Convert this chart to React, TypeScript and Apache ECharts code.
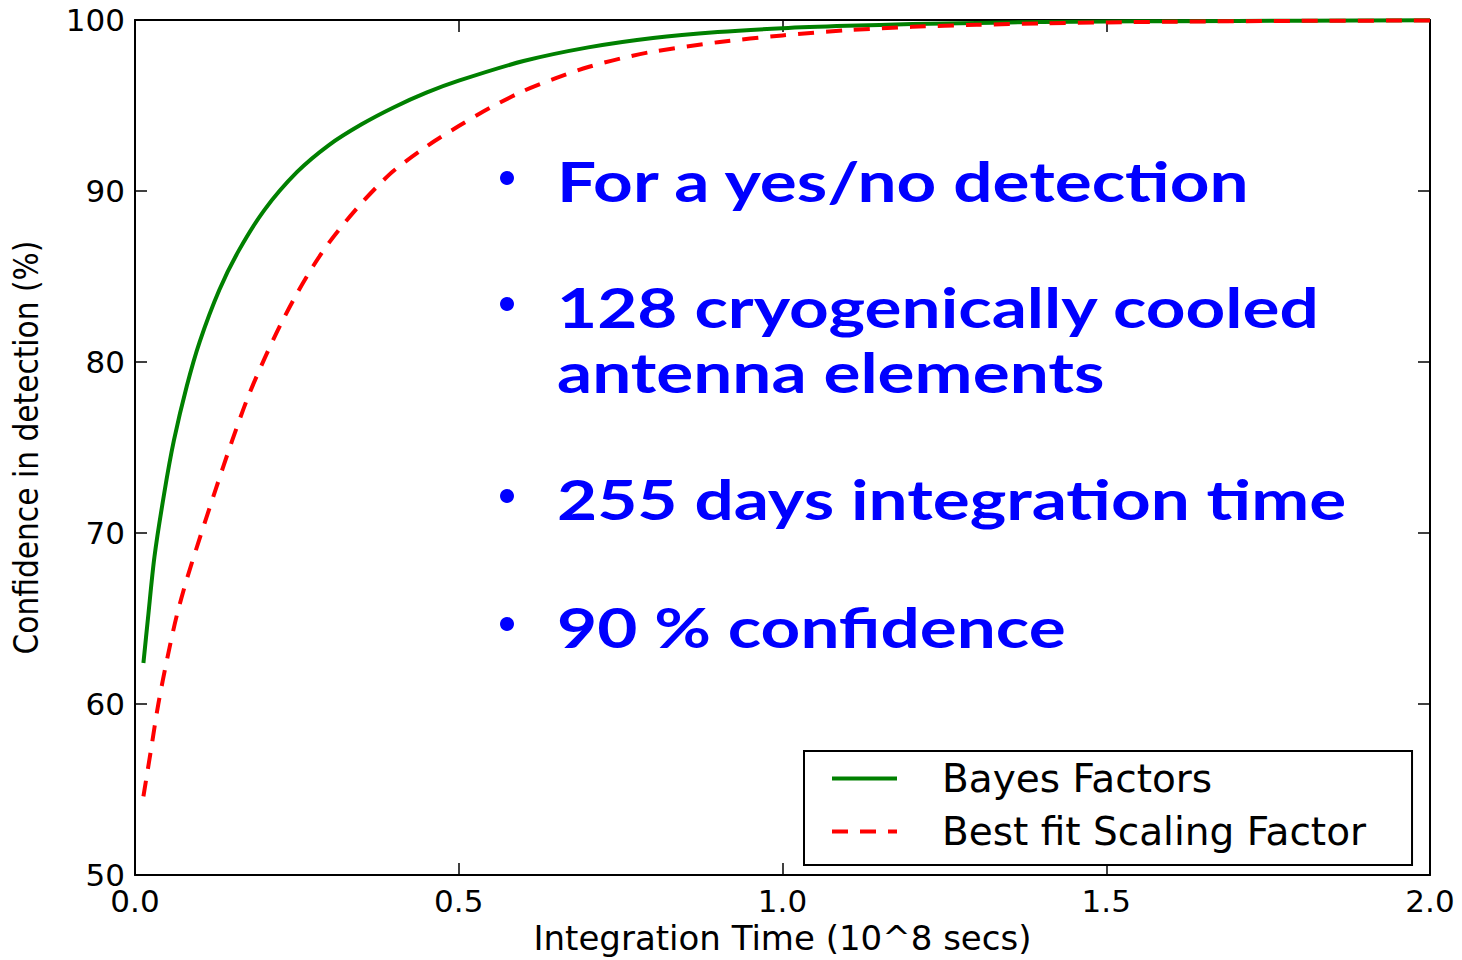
import React, { useEffect, useRef } from "react";
import * as echarts from "echarts";

// Integration time (10^8 s) and detection confidence (%) for each method
const bayesTime = [
  0.013, 0.02, 0.03, 0.045, 0.06, 0.08, 0.1, 0.13, 0.16, 0.2, 0.25, 0.3, 0.35,
  0.4, 0.45, 0.5, 0.6, 0.7, 0.8, 0.9, 1.0, 1.1, 1.2, 1.3, 1.4, 1.5, 1.6, 1.8, 2.0,
];
const bayesConfidence = [
  62.4, 65.0, 68.6, 72.3, 75.4, 78.6, 81.2, 84.2, 86.5, 88.9, 91.1, 92.7, 93.9,
  94.9, 95.75, 96.45, 97.6, 98.4, 98.95, 99.3, 99.52, 99.66, 99.76, 99.83, 99.88,
  99.91, 99.93, 99.96, 99.98,
];

const scalingTime = [
  0.013, 0.025, 0.036, 0.05, 0.064, 0.08, 0.1, 0.125, 0.15, 0.175, 0.2, 0.225,
  0.25, 0.275, 0.3, 0.325, 0.35, 0.375, 0.4, 0.45, 0.5, 0.55, 0.6, 0.65, 0.7,
  0.75, 0.8, 0.9, 1.0, 1.1, 1.2, 1.3, 1.4, 1.5, 1.6, 1.8, 2.0,
];
const scalingConfidence = [
  54.6, 57.4, 60.0, 62.7, 65.1, 67.3, 69.7, 72.6, 75.4, 78.0, 80.2, 82.2, 84.0,
  85.6, 87.0, 88.2, 89.3, 90.3, 91.2, 92.6, 93.8, 94.9, 95.85, 96.6, 97.25,
  97.75, 98.15, 98.7, 99.1, 99.4, 99.6, 99.72, 99.8, 99.86, 99.9, 99.95, 99.97,
];

const seriesNames = ["Bayes Factors", "Best fit Scaling Factor"];

const notes = [
  { bullet: true, text: "For a yes/no detection", y: 180 },
  { bullet: true, text: "128 cryogenically cooled", y: 306 },
  { bullet: false, text: "antenna elements", y: 371 },
  { bullet: true, text: "255 days integration time", y: 498 },
  { bullet: true, text: "90 % confidence", y: 626 },
];

const AXIS_FONT = "'DejaVu Sans', 'Liberation Sans', sans-serif";
const NOTE_FONT = "Lato, 'Noto Sans', sans-serif";

export default function App() {
  const ref = useRef<HTMLDivElement>(null);

  useEffect(() => {
    // keep the page exactly one screen tall
    document.documentElement.style.overflow = "hidden";
    document.body.style.margin = "0";
    document.body.style.overflow = "hidden";

    if (!ref.current) return;
    const chart = echarts.init(ref.current, null, { renderer: "svg" });

    const pairs = (xs: number[], ys: number[]) => xs.map((x, i) => [x, ys[i]]);

    const axisLine = { show: true, onZero: false, lineStyle: { color: "#000", width: 2 } };
    const axisTick = { show: true, inside: true, length: 12, lineStyle: { color: "#000", width: 1.5 } };
    const labelStyle = { fontFamily: AXIS_FONT, fontSize: 31, color: "#000" };

    const graphic: any[] = [];
    notes.forEach((n) => {
      if (n.bullet) {
        graphic.push({
          type: "circle",
          shape: { cx: 507, cy: n.y - 2, r: 7 },
          style: { fill: "#0000ff" },
          silent: true,
        });
      }
      graphic.push({
        type: "text",
        x: 557,
        y: n.y,
        scaleX: 1.26,
        originX: 0,
        originY: 0,
        style: {
          text: n.text,
          fill: "#0000ff",
          fontFamily: NOTE_FONT,
          fontWeight: "bold",
          fontSize: 55,
          verticalAlign: "middle",
          align: "left",
        },
        silent: true,
      });
    });

    chart.setOption({
      animation: false,
      backgroundColor: "#fff",
      grid: { left: 135, top: 20, width: 1295, height: 864, containLabel: false },
      xAxis: [
        {
          type: "value",
          min: 0,
          max: 2,
          interval: 0.5,
          position: "bottom",
          axisLine,
          axisTick,
          splitLine: { show: false },
          axisLabel: {
            ...labelStyle,
            margin: 10,
            showMinLabel: true,
            showMaxLabel: true,
            formatter: (v: number) => v.toFixed(1),
          },
          name: "Integration Time (10^8 secs)",
          nameLocation: "middle",
          nameGap: 43,
          nameTextStyle: { ...labelStyle, fontSize: 34 },
        },
        {
          type: "value",
          min: 0,
          max: 2,
          interval: 0.5,
          position: "top",
          axisLine,
          axisTick,
          splitLine: { show: false },
          axisLabel: { show: false },
        },
      ],
      yAxis: [
        {
          type: "value",
          min: 50,
          max: 100,
          interval: 10,
          position: "left",
          axisLine,
          axisTick,
          splitLine: { show: false },
          axisLabel: { ...labelStyle, margin: 10, showMinLabel: true, showMaxLabel: true },
          name: "Confidence in detection (%)",
          nameLocation: "middle",
          nameGap: 92,
          nameTextStyle: {
            fontFamily: "'DejaVu Sans Condensed', 'Liberation Sans Narrow', 'DejaVu Sans', sans-serif",
            fontSize: 33,
            color: "#000",
          },
        },
        {
          type: "value",
          min: 50,
          max: 100,
          interval: 10,
          position: "right",
          axisLine,
          axisTick,
          splitLine: { show: false },
          axisLabel: { show: false },
        },
      ],
      legend: {
        orient: "vertical",
        left: 804,
        top: 751,
        backgroundColor: "#fff",
        borderColor: "#000",
        borderWidth: 2,
        borderRadius: 0,
        padding: [8, 46, 14, 26],
        itemWidth: 65,
        itemHeight: 14,
        itemGap: 14,
        data: seriesNames,
        itemStyle: { color: "transparent", borderColor: "transparent", borderWidth: 0 },
        lineStyle: { width: 4, type: "inherit" },
        textStyle: {
          fontFamily: AXIS_FONT,
          fontSize: 39,
          color: "#000",
          lineHeight: 36,
          padding: [0, 0, 0, 40],
        },
      },
      series: [
        {
          name: seriesNames[0],
          type: "line",
          data: pairs(bayesTime, bayesConfidence),
          showSymbol: false,
          symbol: "none",
          smooth: 0.3,
          lineStyle: { color: "#008000", width: 4, join: "round" },
          itemStyle: { color: "#008000" },
          z: 2,
        },
        {
          name: seriesNames[1],
          type: "line",
          data: pairs(scalingTime, scalingConfidence),
          showSymbol: false,
          symbol: "none",
          smooth: 0.3,
          lineStyle: { color: "#ff0000", width: 4, type: [16, 12] },
          itemStyle: { color: "#ff0000" },
          z: 3,
        },
      ],
      graphic,
    });

    return () => chart.dispose();
  }, []);

  return (
    <div
      ref={ref}
      style={{
        position: "fixed",
        left: 0,
        top: 0,
        width: 1462,
        height: 960,
        overflow: "hidden",
        background: "#fff",
      }}
    />
  );
}
